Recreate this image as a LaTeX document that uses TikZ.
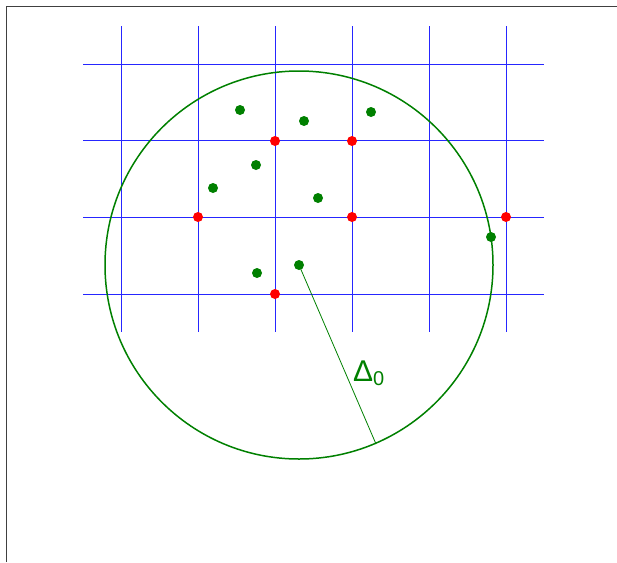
\documentclass[tikz,border=0pt]{standalone}
\usepackage{fontspec}
\setmainfont{Liberation Sans}
\begin{document}
\begin{tikzpicture}[
  x=1pt, y=-1pt,
  gridline/.style={blue!85, line width=1pt},
  reddot/.style={circle, fill=red, inner sep=0pt, minimum size=10pt},
  greendot/.style={circle, fill=green!50!black, inner sep=0pt, minimum size=10pt},
  lbl/.style={font=\fontsize{30}{30}\selectfont, text=green!50!black, inner sep=0pt}
]
\useasboundingbox (0,0) rectangle (617,562);
\draw[black!75, line width=1pt] (6.5,562) -- (6.5,6.5) -- (617,6.5);
% grid
\foreach \i in {0,...,5} {
  \draw[gridline] (121+\i*77,26) -- (121+\i*77,332);
}
\foreach \j in {0,...,3} {
  \draw[gridline] (83,64+\j*76.7) -- (544,64+\j*76.7);
}
% circle and radius
\coordinate (ctr) at (299,265);
\coordinate (rim) at (376,444);
\draw[green!50!black, line width=1.5pt] (ctr) circle[radius=194pt];
\draw[green!50!black, line width=0.8pt] (ctr) -- (rim);
% lattice points
\foreach \n/\x/\y in {r1/275/141,r2/352/141,r3/198/217,r4/352/217,r5/506/217,r6/275/294} {
  \node[reddot] (\n) at (\x,\y) {};
}
% samples
\foreach \n/\x/\y in {g1/240/110,g2/304/121,g3/371/112,g4/256/165,g5/213/188,g6/318/198,g7/257/273,g8/299/265,g9/491/237} {
  \node[greendot] (\n) at (\x,\y) {};
}
\node[lbl, anchor=base west] (delta) at (353,381) {Δ{\fontsize{20}{20}\selectfont\raisebox{-4pt}{0}}};
\end{tikzpicture}
\end{document}
